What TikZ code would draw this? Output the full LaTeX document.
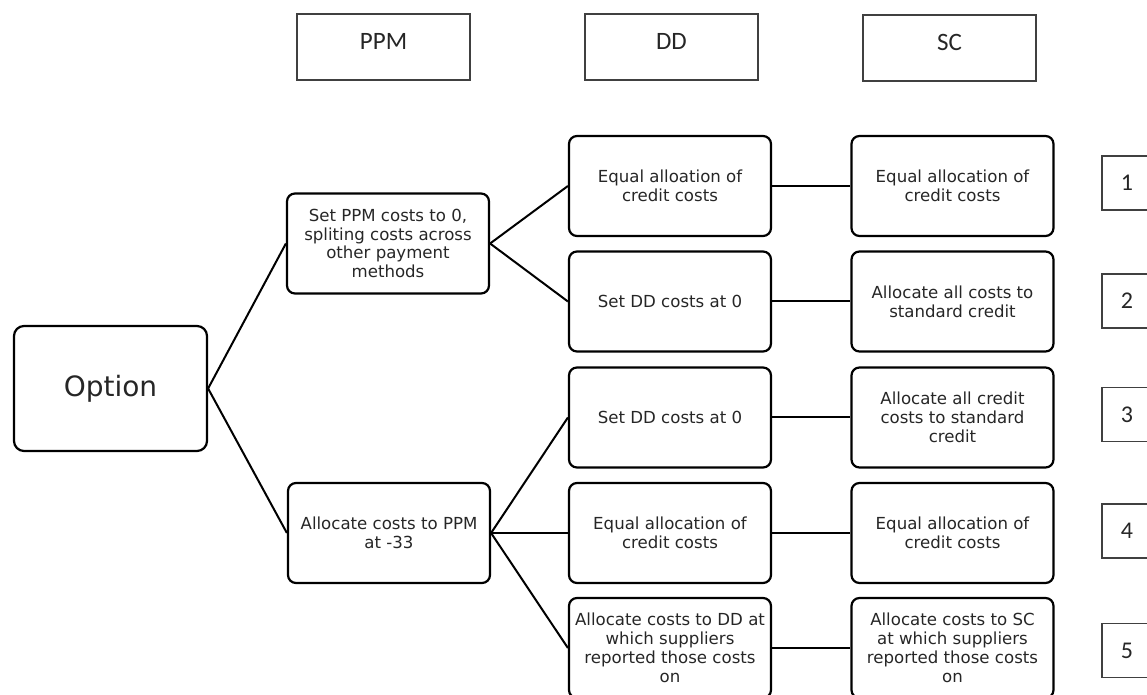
\documentclass[tikz,border=0pt]{standalone}
\usepackage{fontspec}
\setmainfont{DejaVu Sans}
\newfontfamily\hdrfont{Carlito}

\begin{document}
\begin{tikzpicture}[x=0.5pt, y=-0.5pt, inner sep=1pt]
		\tikzstyle{every node}=[align=center, text=black!85]
		\tikzstyle{choice}=[draw=black, line width=1.1pt, rounded corners=4pt, minimum width=101pt, minimum height=50pt, font=\fontsize{8.3}{9.4}\selectfont]
		\tikzstyle{header}=[draw=black!75, line width=0.6pt, minimum width=86.5pt, minimum height=33pt, text depth=6pt, font=\hdrfont\fontsize{12.5}{14}\selectfont]
		\tikzstyle{optnum}=[draw=black!75, line width=0.6pt, minimum width=25pt, minimum height=27pt, font=\hdrfont\fontsize{12}{14}\selectfont]
		\tikzstyle{link}=[line width=1pt]

			\useasboundingbox (0, 0) rectangle (1147, 695);

			% column headers
			\node[header] (ppm) at (383.5, 47) {PPM};
			\node[header] (dd) at (671.5, 47) {DD};
			\node[header] (sc) at (949.5, 48) {SC};

			\node[choice, rounded corners=5pt, minimum width=96.5pt, minimum height=62.5pt, font=\fontsize{14}{16}\selectfont] (option) at (110.5, 388.5) {Option};

			\node[choice] (ppmzero) at (388, 243.5) {Set PPM costs to 0,\\ spliting costs across\\ other payment\\ methods};
			\node[choice] (ppmalloc) at (389, 533) {Allocate costs to PPM\\ at -33};

			\node[choice] (ddone) at (670, 186) {Equal alloation of\\ credit costs};
			\node[choice] (ddtwo) at (670, 301.5) {Set DD costs at 0};
			\node[choice] (ddthree) at (670, 417.5) {Set DD costs at 0};
			\node[choice] (ddfour) at (670, 533) {Equal allocation of\\ credit costs};
			\node[choice] (ddfive) at (670, 648) {Allocate costs to DD at\\ which suppliers\\ reported those costs\\ on};

			\node[choice] (scone) at (952.5, 186) {Equal allocation of\\ credit costs};
			\node[choice] (sctwo) at (952.5, 301.5) {Allocate all costs to\\ standard credit};
			\node[choice] (scthree) at (952.5, 417.5) {Allocate all credit\\ costs to standard\\ credit};
			\node[choice] (scfour) at (952.5, 533) {Equal allocation of\\ credit costs};
			\node[choice] (scfive) at (952.5, 648) {Allocate costs to SC\\ at which suppliers\\ reported those costs\\ on};

			% option numbers
			\node[optnum] (numone) at (1127, 183) {1};
			\node[optnum] (numtwo) at (1127, 301) {2};
			\node[optnum] (numthree) at (1127, 414.5) {3};
			\node[optnum] (numfour) at (1127, 531) {4};
			\node[optnum] (numfive) at (1127, 650.5) {5};

			\draw[link] (option.east) -- (ppmzero.west);
			\draw[link] (option.east) -- (ppmalloc.west);
			\draw[link] (ppmzero.east) -- (ddone.west);
			\draw[link] (ppmzero.east) -- (ddtwo.west);
			\draw[link] (ppmalloc.east) -- (ddthree.west);
			\draw[link] (ppmalloc.east) -- (ddfour.west);
			\draw[link] (ppmalloc.east) -- (ddfive.west);
			\draw[link] (ddone) -- (scone);
			\draw[link] (ddtwo) -- (sctwo);
			\draw[link] (ddthree) -- (scthree);
			\draw[link] (ddfour) -- (scfour);
			\draw[link] (ddfive) -- (scfive);
		\end{tikzpicture}
\end{document}
